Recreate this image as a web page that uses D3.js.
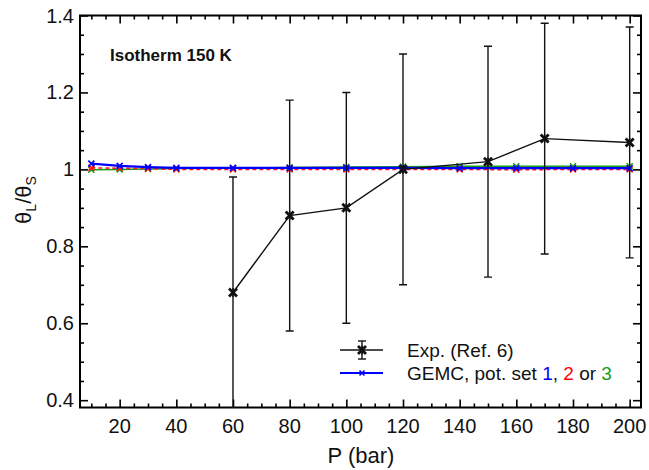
<!DOCTYPE html>
<html>
<head>
<meta charset="utf-8">
<script src="https://cdn.jsdelivr.net/npm/d3@7"></script>
<style>
  html, body { margin: 0; padding: 0; background: #fff; }
  svg { display: block; }
  text { font-family: "Liberation Sans", Arial, Helvetica, sans-serif; }
</style>
</head>
<body>
<script>
// ---------- data ----------
const expP   = [60, 80, 100, 120, 150, 170, 200];
const expVal = [0.68, 0.88, 0.90, 1.00, 1.02, 1.08, 1.07];
const expErr = [0.30, 0.30, 0.30, 0.30, 0.30, 0.30, 0.30];

const gemcP = [10, 20, 30, 40, 60, 80, 100, 120, 140, 160, 180, 200];
const set1  = [1.015, 1.009, 1.006, 1.004, 1.004, 1.004, 1.004, 1.004, 1.003, 1.003, 1.003, 1.003];
const set2  = [1.004, 1.003, 1.002, 1.000, 1.000, 1.000, 1.000, 1.000, 1.000, 0.999, 1.000, 1.000];
const set3  = [0.999, 1.000, 1.001, 1.002, 1.003, 1.005, 1.006, 1.007, 1.008, 1.008, 1.008, 1.008];

const xMajor = [20, 40, 60, 80, 100, 120, 140, 160, 180, 200];
const yMajor = [0.4, 0.6, 0.8, 1.0, 1.2, 1.4];
const yLabels = ["0.4", "0.6", "0.8", "1", "1.2", "1.4"];

// ---------- layout ----------
const W = 649, H = 470;
const L = 80, R = 641, T = 15.5, B = 407.5;

const svg = d3.select("body").append("svg").attr("width", W).attr("height", H);

const x = d3.scaleLinear().domain([6, 204]).range([L, R]);
const y = d3.scaleLinear().domain([0.381, 1.4]).range([B, T]);

svg.append("defs").append("clipPath").attr("id", "clip")
  .append("rect").attr("x", L).attr("y", T).attr("width", R - L).attr("height", B - T);

const xMinor = d3.range(10, 201, 5).filter(v => !xMajor.includes(v));
const yMinor = d3.range(8, 29).map(v => +(v * 0.05).toFixed(2)).filter(v => !yMajor.some(m => Math.abs(m - v) < 1e-6));

function tickAxis(axisGen, tx, ty) {
  const g = svg.append("g").attr("transform", `translate(${tx},${ty})`).call(axisGen);
  g.select(".domain").remove();
  g.selectAll("line").attr("stroke", "#000").attr("stroke-width", 1.6);
  g.selectAll("text").remove();
  return g;
}
const MAJ = 8, MIN = 4;
tickAxis(d3.axisBottom(x).tickValues(xMajor).tickSize(-MAJ), 0, B);
tickAxis(d3.axisBottom(x).tickValues(xMinor).tickSize(-MIN), 0, B);
tickAxis(d3.axisTop(x).tickValues(xMajor).tickSize(-MAJ), 0, T);
tickAxis(d3.axisTop(x).tickValues(xMinor).tickSize(-MIN), 0, T);
tickAxis(d3.axisLeft(y).tickValues(yMajor).tickSize(-MAJ), L, 0);
tickAxis(d3.axisLeft(y).tickValues(yMinor).tickSize(-MIN), L, 0);
tickAxis(d3.axisRight(y).tickValues(yMajor).tickSize(-MAJ), R, 0);
tickAxis(d3.axisRight(y).tickValues(yMinor).tickSize(-MIN), R, 0);

// tick labels
svg.append("g").selectAll("text").data(xMajor).join("text")
  .attr("x", d => x(d)).attr("y", 433)
  .attr("text-anchor", "middle").attr("font-size", 20).attr("fill", "#111")
  .text(d => d);
svg.append("g").selectAll("text").data(yMajor).join("text")
  .attr("x", 74).attr("y", d => y(d) + 7)
  .attr("text-anchor", "end").attr("font-size", 20).attr("fill", "#111")
  .text((d, i) => yLabels[i]);

// frame
svg.append("rect").attr("x", L).attr("y", T).attr("width", R - L).attr("height", B - T)
  .attr("fill", "none").attr("stroke", "#000").attr("stroke-width", 2);

// axis titles
svg.append("text").attr("x", 361).attr("y", 463).attr("text-anchor", "middle")
  .attr("font-size", 22).attr("fill", "#111").text("P (bar)");

const yt = svg.append("text").attr("transform", "translate(31,200) rotate(-90)")
  .attr("text-anchor", "middle").attr("font-size", 22).attr("fill", "#111");
yt.append("tspan").text("θ");
yt.append("tspan").attr("font-size", 14).attr("dy", 5).text("L");
yt.append("tspan").attr("dy", -5).text("/θ");
yt.append("tspan").attr("font-size", 14).attr("dy", 5).text("S");

// annotation
svg.append("text").attr("x", 110).attr("y", 61)
  .attr("font-family", "Roboto, 'DejaVu Sans', sans-serif").attr("font-weight", 700)
  .attr("font-size", 17).attr("fill", "#111").text("Isotherm 150 K");

// ---------- data plot ----------
const plot = svg.append("g").attr("clip-path", "url(#clip)");

function xMark(sel, s, sw, color) {
  sel.append("path")
    .attr("d", `M${-s},${-s}L${s},${s}M${-s},${s}L${s},${-s}`)
    .attr("stroke", color).attr("stroke-width", sw).attr("fill", "none");
}

const gemcSeries = [
  { vals: set3, color: "#1a9a1a", dash: null, width: 1.5 },
  { vals: set2, color: "#ff1a1a", dash: "4,3", width: 1.6 },
  { vals: set1, color: "#0000ff", dash: null, width: 2.2 }
];
gemcSeries.forEach(s => {
  const pts = gemcP.map((p, i) => [p, s.vals[i]]);
  plot.append("path").datum(pts)
    .attr("d", d3.line().x(d => x(d[0])).y(d => y(d[1])))
    .attr("fill", "none").attr("stroke", s.color).attr("stroke-width", s.width)
    .attr("stroke-dasharray", s.dash);
  plot.append("g").selectAll("g").data(pts).join("g")
    .attr("transform", d => `translate(${x(d[0])},${y(d[1])})`)
    .each(function () { xMark(d3.select(this), 3, 1.6, s.color); });
});

// experimental
const expPts = expP.map((p, i) => ({ p, v: expVal[i], e: expErr[i] }));
plot.append("path").datum(expPts)
  .attr("d", d3.line().x(d => x(d.p)).y(d => y(d.v)))
  .attr("fill", "none").attr("stroke", "#111").attr("stroke-width", 1.4);
const eb = plot.append("g").selectAll("g").data(expPts).join("g");
eb.append("line").attr("x1", d => x(d.p)).attr("x2", d => x(d.p))
  .attr("y1", d => y(d.v - d.e)).attr("y2", d => y(d.v + d.e))
  .attr("stroke", "#111").attr("stroke-width", 1.4);
eb.append("line").attr("x1", d => x(d.p) - 4).attr("x2", d => x(d.p) + 4)
  .attr("y1", d => y(d.v + d.e)).attr("y2", d => y(d.v + d.e))
  .attr("stroke", "#111").attr("stroke-width", 1.4);
eb.append("line").attr("x1", d => x(d.p) - 4).attr("x2", d => x(d.p) + 4)
  .attr("y1", d => y(d.v - d.e)).attr("y2", d => y(d.v - d.e))
  .attr("stroke", "#111").attr("stroke-width", 1.4);
eb.append("g").attr("transform", d => `translate(${x(d.p)},${y(d.v)})`)
  .each(function () {
    const g = d3.select(this);
    xMark(g, 4, 2.8, "#111");
    g.append("path").attr("d", "M0,-4.5L0,4.5").attr("stroke", "#111").attr("stroke-width", 1.5);
  });

// ---------- legend ----------
const lg = svg.append("g");
lg.append("line").attr("x1", 340).attr("x2", 383).attr("y1", 350).attr("y2", 350)
  .attr("stroke", "#111").attr("stroke-width", 1.4);
lg.append("line").attr("x1", 362).attr("x2", 362).attr("y1", 341).attr("y2", 359)
  .attr("stroke", "#111").attr("stroke-width", 1.4);
[341, 359].forEach(yy => lg.append("line").attr("x1", 358).attr("x2", 366).attr("y1", yy).attr("y2", yy)
  .attr("stroke", "#111").attr("stroke-width", 1.4));
{
  const g = lg.append("g").attr("transform", "translate(362,350)");
  xMark(g, 4, 2.8, "#111");
  g.append("path").attr("d", "M0,-4.5L0,4.5").attr("stroke", "#111").attr("stroke-width", 1.5);
}
lg.append("text").attr("x", 407).attr("y", 357).attr("font-size", 19).attr("fill", "#111")
  .text("Exp. (Ref. 6)");
lg.append("line").attr("x1", 340).attr("x2", 383).attr("y1", 373).attr("y2", 373)
  .attr("stroke", "#0000ff").attr("stroke-width", 2.2);
{
  const g = lg.append("g").attr("transform", "translate(362,373)");
  xMark(g, 2.5, 1.6, "#0000ff");
}
const gt = lg.append("text").attr("x", 407).attr("y", 380).attr("font-size", 19).attr("fill", "#111");
gt.append("tspan").text("GEMC, pot. set ");
gt.append("tspan").attr("fill", "#0000ff").text("1");
gt.append("tspan").text(", ");
gt.append("tspan").attr("fill", "#ff0000").text("2");
gt.append("tspan").text(" or ");
gt.append("tspan").attr("fill", "#1a9a1a").text("3");
</script>
</body>
</html>
